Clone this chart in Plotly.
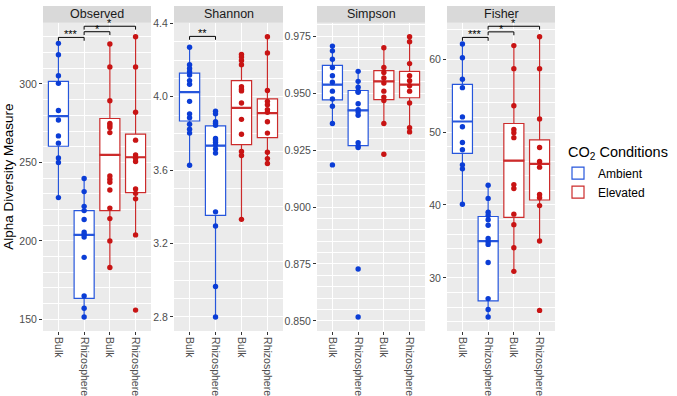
import plotly.graph_objects as go

# ---------------- data ----------------
categories = ["Ambient_Bulk", "Ambient_Rhizosphere", "Elevated_Bulk", "Elevated_Rhizosphere"]
tick_labels = ["Bulk", "Rhizosphere", "Bulk", "Rhizosphere"]
conditions = ["Ambient", "Elevated"]
measures = ["Observed", "Shannon", "Simpson", "Fisher"]

# Observed
obs_amb_bulk = [325.9, 318.6, 305.2, 300.4, 283.1, 277.0, 266.9, 262.3, 252.9, 250.0, 227.6]
obs_amb_rhizo = [239.8, 231.4, 222.0, 219.3, 213.6, 205.6, 204.2, 202.5, 189.5, 164.9, 157.1, 151.5]
obs_elev_bulk = [325.5, 310.9, 289.3, 274.9, 273.6, 272.2, 269.0, 241.4, 239.3, 237.4, 232.4, 220.9, 214.2, 200.0, 183.0]
obs_elev_rhizo = [330.1, 310.9, 282.0, 264.2, 254.8, 252.7, 250.6, 233.1, 230.3, 226.8, 203.8, 155.9]
obs_q1 = [260.3, 163.4, 219.3, 230.8]
obs_med = [279.5, 203.8, 254.8, 253.3]
obs_q3 = [301.7, 219.3, 278.0, 268.0]
obs_lo = [227.6, 151.5, 183.0, 203.8]
obs_hi = [325.9, 239.8, 325.5, 330.1]

# Shannon
sha_amb_bulk = [4.270, 4.175, 4.154, 4.136, 4.118, 4.088, 4.068, 3.975, 3.907, 3.886, 3.850, 3.823, 3.802, 3.627]
sha_amb_rhizo = [3.921, 3.907, 3.864, 3.855, 3.845, 3.773, 3.764, 3.752, 3.738, 3.716, 3.693, 3.373, 3.296, 2.966, 2.800]
sha_elev_bulk = [4.230, 4.216, 4.198, 4.175, 4.055, 4.041, 4.032, 3.966, 3.877, 3.796, 3.702, 3.680, 3.332]
sha_elev_rhizo = [4.327, 4.239, 4.034, 3.975, 3.957, 3.930, 3.916, 3.864, 3.802, 3.698, 3.663, 3.636]
sha_q1 = [3.868, 3.354, 3.739, 3.777]
sha_med = [4.025, 3.734, 3.939, 3.911]
sha_q3 = [4.129, 3.841, 4.088, 3.988]
sha_lo = [3.627, 2.800, 3.332, 3.636]
sha_hi = [4.270, 3.921, 4.230, 4.327]

# Simpson
sim_amb_bulk = [0.9707, 0.9686, 0.9649, 0.9613, 0.9577, 0.9548, 0.9509, 0.9475, 0.9443, 0.9367, 0.9185]
sim_amb_rhizo = [0.9596, 0.9552, 0.9526, 0.9509, 0.9504, 0.9454, 0.9428, 0.9417, 0.9403, 0.9283, 0.9268, 0.9261, 0.8728, 0.8517]
sim_elev_bulk = [0.9700, 0.9613, 0.9591, 0.9567, 0.9545, 0.9509, 0.9483, 0.9468, 0.9367, 0.9232]
sim_elev_rhizo = [0.9748, 0.9726, 0.9630, 0.9577, 0.9555, 0.9533, 0.9509, 0.9457, 0.9348, 0.9330]
sim_q1 = [0.9471, 0.9270, 0.9472, 0.9480]
sim_med = [0.9538, 0.9425, 0.9552, 0.9538]
sim_q3 = [0.9622, 0.9512, 0.9599, 0.9596]
sim_lo = [0.9367, 0.9261, 0.9367, 0.9330]
sim_hi = [0.9707, 0.9596, 0.9700, 0.9748]

# Fisher
fis_amb_bulk = [62.07, 60.18, 57.25, 56.08, 52.07, 50.72, 48.56, 47.57, 45.50, 44.95, 40.09]
fis_amb_rhizo = [42.70, 40.90, 39.01, 38.56, 37.97, 37.21, 35.41, 34.95, 34.59, 32.12, 27.16, 25.68, 24.64]
fis_elev_bulk = [61.85, 58.69, 53.60, 50.36, 49.91, 49.23, 42.79, 42.25, 38.74, 37.30, 34.14, 30.90]
fis_elev_rhizo = [63.06, 58.69, 51.80, 47.88, 45.95, 45.18, 41.44, 40.99, 39.91, 35.05, 25.54]
fis_q1 = [47.07, 26.84, 38.29, 40.68]
fis_med = [51.44, 35.05, 46.08, 45.63]
fis_q3 = [56.53, 38.42, 51.17, 48.92]
fis_lo = [40.09, 24.64, 30.90, 35.05]
fis_hi = [62.07, 42.70, 61.85, 63.06]

# significance brackets: (group a, group b, y, label)
obs_brackets = [("Ambient_Bulk", "Ambient_Rhizosphere", 329.7, "***"),
                ("Ambient_Rhizosphere", "Elevated_Bulk", 333.3, "*"),
                ("Ambient_Rhizosphere", "Elevated_Rhizosphere", 336.8, "*")]
sha_brackets = [("Ambient_Bulk", "Ambient_Rhizosphere", 4.329, "**")]
sim_brackets = []
fis_brackets = [("Ambient_Bulk", "Ambient_Rhizosphere", 62.97, "***"),
                ("Ambient_Rhizosphere", "Elevated_Bulk", 63.73, "*"),
                ("Ambient_Rhizosphere", "Elevated_Rhizosphere", 64.50, "*")]

panels = {
    "Observed": dict(points=[obs_amb_bulk, obs_amb_rhizo, obs_elev_bulk, obs_elev_rhizo],
                     q1=obs_q1, med=obs_med, q3=obs_q3, lo=obs_lo, hi=obs_hi,
                     brackets=obs_brackets, dtick=50, fmt="d"),
    "Shannon": dict(points=[sha_amb_bulk, sha_amb_rhizo, sha_elev_bulk, sha_elev_rhizo],
                    q1=sha_q1, med=sha_med, q3=sha_q3, lo=sha_lo, hi=sha_hi,
                    brackets=sha_brackets, dtick=0.4, fmt=".1f"),
    "Simpson": dict(points=[sim_amb_bulk, sim_amb_rhizo, sim_elev_bulk, sim_elev_rhizo],
                    q1=sim_q1, med=sim_med, q3=sim_q3, lo=sim_lo, hi=sim_hi,
                    brackets=sim_brackets, dtick=0.025, fmt=".3f"),
    "Fisher": dict(points=[fis_amb_bulk, fis_amb_rhizo, fis_elev_bulk, fis_elev_rhizo],
                   q1=fis_q1, med=fis_med, q3=fis_q3, lo=fis_lo, hi=fis_hi,
                   brackets=fis_brackets, dtick=10, fmt="d"),
}

# ---------------- styling ----------------
W, H = 677, 396
FONT = "Liberation Sans, Arial, Helvetica, sans-serif"
point_col = {"Ambient": "#0B3DD6", "Elevated": "#C81414"}
box_col = {"Ambient": "#2656DC", "Elevated": "#CC2B2B"}
panel_px = [(43, 151), (174, 283), (317, 425), (447, 555)]
panel_top, panel_bot = 17, 330
strip_top = 0

def px_x(v):
    return v / W

def px_y(v):
    return 1 - v / H

fig = go.Figure()
layout_axes = {}
annotations = []
shapes = []

for i, m in enumerate(measures):
    d = panels[m]
    sfx = "" if i == 0 else str(i + 1)
    xa, ya = "x" + sfx, "y" + sfx
    for ci, cond in enumerate(conditions):
        idx = [2 * ci, 2 * ci + 1]
        cats = [categories[k] for k in idx]
        fig.add_trace(go.Box(
            x=cats,
            q1=[d["q1"][k] for k in idx], median=[d["med"][k] for k in idx],
            q3=[d["q3"][k] for k in idx], lowerfence=[d["lo"][k] for k in idx],
            upperfence=[d["hi"][k] for k in idx],
            fillcolor="white", line=dict(color=box_col[cond], width=1.2),
            whiskerwidth=0, width=0.78, boxpoints=False,
            name=cond, legendgroup=cond, showlegend=(i == 0),
            xaxis=xa, yaxis=ya, hoverinfo="skip"))
        # thicker median line
        fig.add_trace(go.Scatter(
            x=cats, y=[d["med"][k] for k in idx], mode="markers",
            marker=dict(symbol="line-ew", size=15,
                        line=dict(color=box_col[cond], width=2.2)),
            showlegend=False, legendgroup=cond, xaxis=xa, yaxis=ya, hoverinfo="skip"))
        for k in idx:
            vals = d["points"][k]
            fig.add_trace(go.Scatter(
                x=[categories[k]] * len(vals), y=vals, mode="markers",
                marker=dict(color=point_col[cond], size=5.4),
                showlegend=False, legendgroup=cond, xaxis=xa, yaxis=ya))
    # y range from the data with ggplot-like 5% expansion
    allv = [v for arr in d["points"] for v in arr]
    lo, hi = min(allv), max(allv)
    pad = 0.05 * (hi - lo)
    yr = [lo - pad, hi + pad]
    tip = 0.011 * (yr[1] - yr[0])
    for a, b, yv, lab in d["brackets"]:
        fig.add_trace(go.Scatter(
            x=[a, a, b, b], y=[yv - tip, yv, yv, yv - tip], mode="lines",
            line=dict(color="black", width=1), showlegend=False,
            xaxis=xa, yaxis=ya, hoverinfo="skip"))
        mid = (categories.index(a) + categories.index(b)) / 2
        annotations.append(dict(x=mid, y=yv, xref=xa, yref=ya, text=lab,
                                showarrow=False, yanchor="bottom", yshift=-5,
                                font=dict(size=11, color="black", family=FONT)))
    x0, x1 = panel_px[i]
    layout_axes["xaxis" + sfx] = dict(
        domain=[px_x(x0), px_x(x1)], anchor=ya, type="category",
        categoryorder="array", categoryarray=categories,
        tickvals=categories, ticktext=tick_labels, tickangle=90,
        range=[-0.6, 3.6], showgrid=True, gridcolor="white", gridwidth=1.1,
        zeroline=False, ticks="outside", ticklen=3, tickcolor="#333333",
        tickfont=dict(size=10.5, color="#4D4D4D", family=FONT), showline=False)
    layout_axes["yaxis" + sfx] = dict(
        domain=[px_y(panel_bot), px_y(panel_top)], anchor=xa,
        range=yr, dtick=d["dtick"], tickformat=d["fmt"],
        showgrid=True, gridcolor="white", gridwidth=1.1,
        minor=dict(showgrid=True, gridcolor="white", gridwidth=0.5),
        zeroline=False, ticks="outside", ticklen=3, tickcolor="#333333",
        tickfont=dict(size=10.5, color="#4D4D4D", family=FONT), showline=False)
    # strip
    shapes.append(dict(type="rect", xref="paper", yref="paper",
                       x0=px_x(x0), x1=px_x(x1), y0=px_y(panel_top), y1=px_y(strip_top),
                       fillcolor="#D9D9D9", line=dict(width=0), layer="below"))
    annotations.append(dict(x=px_x((x0 + x1) / 2), y=px_y((strip_top + panel_top) / 2),
                            xref="paper", yref="paper", text=m, showarrow=False,
                            xanchor="center", yanchor="middle",
                            font=dict(size=12.5, color="#1A1A1A", family=FONT)))

annotations.append(dict(x=px_x(9), y=px_y((panel_top + panel_bot) / 2), xref="paper", yref="paper",
                        text="Alpha Diversity Measure", textangle=-90, showarrow=False,
                        xanchor="center", yanchor="middle",
                        font=dict(size=13.5, color="black", family=FONT)))
# legend title
annotations.append(dict(x=px_x(566), y=px_y(149), xref="paper", yref="paper",
                        text="CO<sub>2</sub> Conditions", showarrow=False,
                        xanchor="left", yanchor="middle",
                        font=dict(size=14.5, color="black", family=FONT)))

fig.update_layout(
    width=W, height=H, margin=dict(l=0, r=0, t=0, b=0),
    paper_bgcolor="white", plot_bgcolor="#EBEBEB",
    font=dict(family=FONT),
    boxmode="overlay",
    shapes=shapes, annotations=annotations,
    legend=dict(x=px_x(558), y=px_y(155), xanchor="left", yanchor="top",
                font=dict(size=12, color="black", family=FONT),
                bgcolor="rgba(0,0,0,0)", tracegroupgap=0, itemwidth=30),
    **layout_axes)

fig.write_html("out.html", config={"displayModeBar": False},
               post_script="document.body.style.margin='0px';")
